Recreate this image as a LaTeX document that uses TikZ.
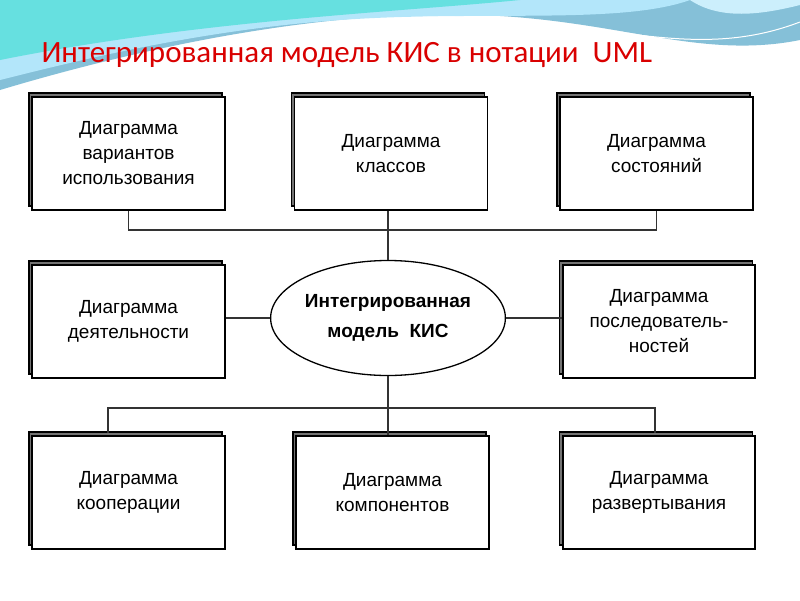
\documentclass[tikz,border=0pt]{standalone}
\usepackage{fontspec}
\setmainfont{Liberation Sans}
\newfontfamily\titlefont{Carlito}
\usetikzlibrary{shapes.geometric}
\begin{document}
\begin{tikzpicture}[x=1pt,y=-1pt,
  box/.style={draw=black,line width=1.3pt,fill=white,minimum width=193pt,minimum height=113pt,align=center,font=\fontsize{19}{25}\selectfont,inner sep=0pt},
  line/.style={draw=black!80,line width=1.2pt}]
\useasboundingbox (0,0) rectangle (800,600);
\fill[white] (0,0) rectangle (800,600);
% background waves
\fill[cyan!45!teal!55!white] (0,0) -- (800,0) -- (800,40) .. controls (700,60) and (620,20) .. (480,15) .. controls (300,8) and (100,60) .. (0,90) -- cycle;
\fill[cyan!30!white] (0,0) -- (690,0) .. controls (620,25) and (480,10) .. (340,20) .. controls (200,30) and (80,60) .. (0,80) -- cycle;
\fill[teal!40!cyan!60] (0,0) -- (520,0) .. controls (400,12) and (200,20) .. (0,60) -- cycle;
\fill[cyan!20!white] (690,0) .. controls (720,20) and (760,15) .. (800,5) -- (800,0) -- cycle;
\draw[white,line width=1pt] (0,92) .. controls (120,60) and (300,10) .. (480,18) .. controls (620,25) and (700,60) .. (800,22);
\node[anchor=base west,text=red!85!black,font=\titlefont\fontsize{31}{36}\selectfont] (title) at (38,62) {Интегрированная модель КИС в нотации \ UML};
% shadow boxes
\foreach \x/\y in {128.5/153.5,391/153.5,656.5/153.5,128.5/321.5,659/321.5,128.5/492.5,392.5/492.5,659/492.5}
  \draw[line width=1.2pt,fill=black!55] (\x-99.5,\y-60.5) rectangle (\x+93.5,\y+52.5);
\node[box] (b1) at (128.5,153.5) {Диаграмма\\вариантов\\использования};
\node[box] (b2) at (391,153.5) {Диаграмма\\классов};
\node[box] (b3) at (656.5,153.5) {Диаграмма\\состояний};
\node[box] (b4) at (128.5,321.5) {Диаграмма\\деятельности};
\node[box,minimum width=192pt] (b5) at (659,321.5) {Диаграмма\\последователь-\\ностей};
\node[box] (b6) at (128.5,492.5) {Диаграмма\\кооперации};
\node[box] (b7) at (392.5,492.5) {Диаграмма\\компонентов};
\node[box,minimum width=192pt] (b8) at (659,492.5) {Диаграмма\\развертывания};
\node[ellipse,draw=black,line width=1.3pt,fill=white,minimum width=230pt,minimum height=115pt,align=center,font=\fontsize{19}{30}\selectfont\bfseries,inner sep=0pt] (e) at (388,318) {Интегрированная\\модель \ КИС};
\coordinate (t1) at (b1.south |- 0,230);
\coordinate (t3) at (b3.south |- 0,230);
\draw[line] (b1.south) -- (t1) -- (t3) -- (b3.south);
\draw[line] (e.north |- b2.south) -- (e.north);
\draw[line] (b4.east |- e.west) -- (e.west);
\draw[line] (e.east) -- (b5.west |- e.east);
\coordinate (u1) at (108,408);
\coordinate (u3) at (655,408);
\coordinate (ue) at (e.south |- 0,408);
\draw[line] (e.south) -- (ue);
\draw[line] (108,433) -- (u1) -- (u3) -- (655,433);
\draw[line] (ue) -- (e.south |- b7.north);
\end{tikzpicture}
\end{document}
